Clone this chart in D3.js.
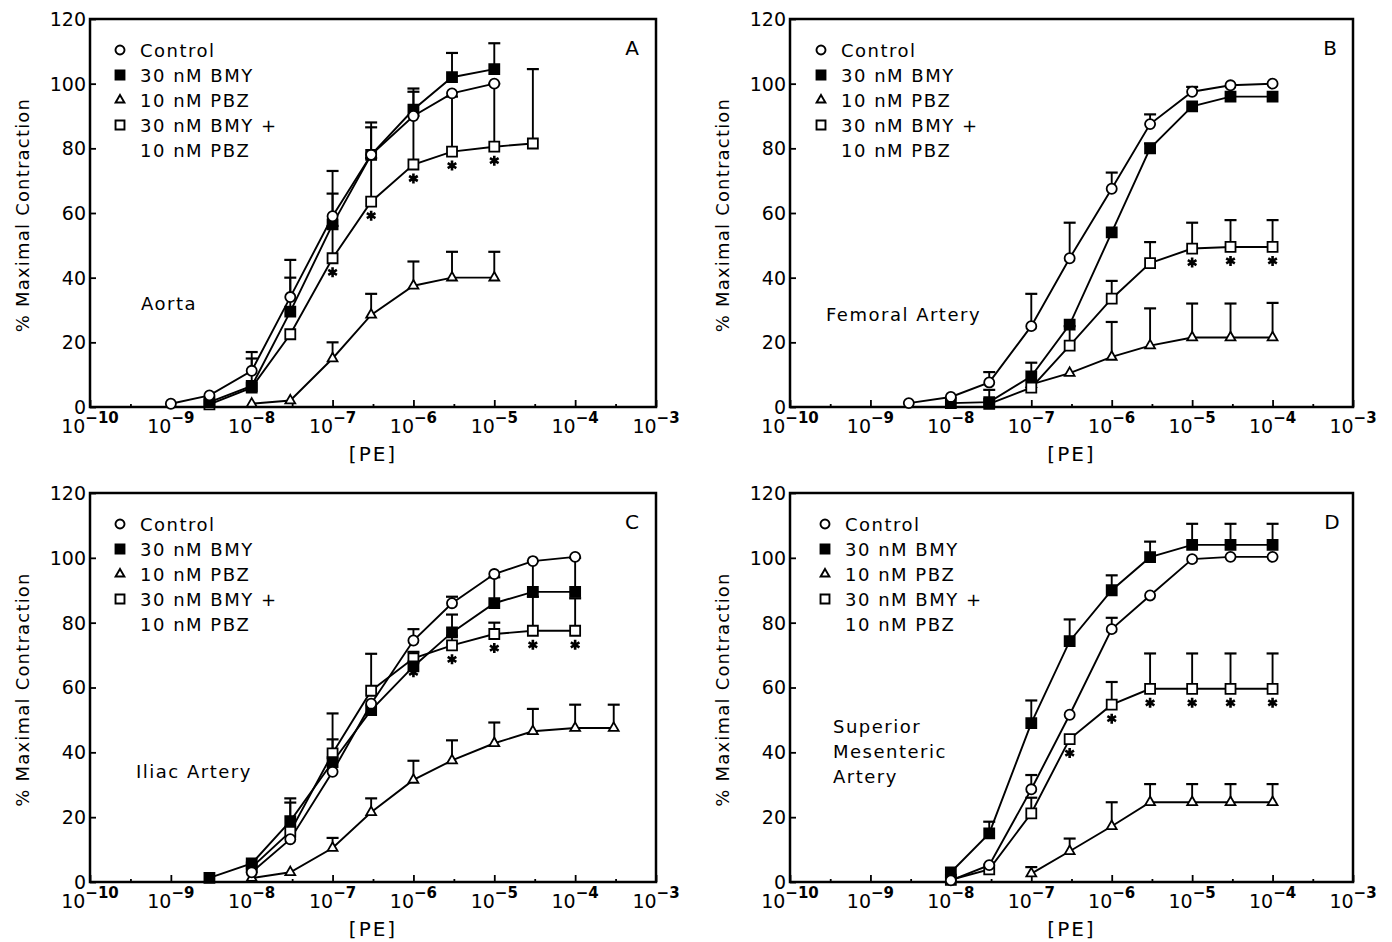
<!DOCTYPE html>
<html>
<head>
<meta charset="utf-8">
<script src="https://cdn.jsdelivr.net/npm/d3@7"></script>
<style>
body { margin: 0; background: #fff; }
text { font-family: "DejaVu Sans", sans-serif; fill: #000; }
</style>
</head>
<body>
<svg id="chart" width="1392" height="942"></svg>
<script>
var _ = null;

// PE concentrations (M) shared by every panel
var doses = [1e-9, 3e-9, 1e-8, 3e-8, 1e-7, 3e-7, 1e-6, 3e-6, 1e-5, 3e-5, 1e-4, 3e-4];
var xTicks = [1e-10, 1e-9, 1e-8, 1e-7, 1e-6, 1e-5, 1e-4, 1e-3];
var xTickExp = ["-10", "-9", "-8", "-7", "-6", "-5", "-4", "-3"];
var xMinorTicks = [3.162e-10, 3.162e-9, 3.162e-8, 3.162e-7, 3.162e-6, 3.162e-5, 3.162e-4];
var yTicks = [0, 20, 40, 60, 80, 100, 120];

var legendLabels = [["Control"], ["30 nM BMY"], ["10 nM PBZ"], ["30 nM BMY +", "10 nM PBZ"]];

// A - Aorta (value, top of error bar)
var aortaCtrl    = [1.0, 3.6, 11.2, 34, 59, 78, 90, 97, 100, _, _, _];
var aortaCtrlErr = [_, _, 17, 45.5, 73, 88, 98.5, _, _, _, _, _];
var aortaBmy     = [_, 1.5, 6.5, 29.5, 56.5, 78, 92, 102, 104.5, _, _, _];
var aortaBmyErr  = [_, _, 15, 40, 66, 86.5, 97.5, 109.5, 112.5, _, _, _];
var aortaPbz     = [_, _, 1, 2, 15, 28.5, 37.5, 40, 40, _, _, _];
var aortaPbzErr  = [_, _, _, _, 20, 35, 45, 48, 48, _, _, _];
var aortaBoth    = [_, 0.8, 6, 22.5, 46, 63.5, 75, 79, 80.5, 81.5, _, _];
var aortaBothErr = [_, _, _, _, 56, 77, 90, 96, 100, 104.5, _, _];
var aortaStars   = [1e-7, 3e-7, 1e-6, 3e-6, 1e-5];

// B - Femoral artery
var femCtrl    = [_, 1.2, 3.1, 7.6, 25, 46, 67.5, 87.5, 97.5, 99.5, 100, _];
var femCtrlErr = [_, _, _, 10.8, 35, 57, 72.5, 90.5, 99, _, _, _];
var femBmy     = [_, _, 1.2, 1.5, 9.5, 25.5, 54, 80, 93, 96, 96, _];
var femBmyErr  = [_, _, _, 5.3, 13.7, _, _, 81.5, _, _, _, _];
var femPbz     = [_, _, _, _, 7, 10.5, 15.5, 19, 21.5, 21.5, 21.5, _];
var femPbzErr  = [_, _, _, _, _, _, 26.3, 30.5, 32, 32, 32.2, _];
var femBoth    = [_, _, _, 1, 6, 19, 33.5, 44.5, 49, 49.5, 49.5, _];
var femBothErr = [_, _, _, _, _, 25, 39, 51, 57, 57.8, 57.8, _];
var femStars   = [1e-5, 3e-5, 1e-4];

// C - Iliac artery
var ilCtrl    = [_, _, 3, 13.2, 34, 55, 74.5, 86, 95, 99, 100.3, _];
var ilCtrlErr = [_, _, _, 24.5, 44, _, 78, 88, _, _, _, _];
var ilBmy     = [_, 1.3, 5.7, 18.8, 37, 53, 66.5, 77, 86, 89.5, 89.5, _];
var ilBmyErr  = [_, _, _, 25.8, 52, _, _, 82.5, 94, 99, 100, _];
var ilPbz     = [_, _, 1.2, 3, 10.5, 21.5, 31.5, 37.5, 42.8, 46.5, 47.5, 47.5];
var ilPbzErr  = [_, _, _, _, 13.6, 25.8, 37.4, 43.7, 49.2, 53.4, 54.7, 54.7];
var ilBoth    = [_, _, 4.5, 15.5, 39.7, 59, 69, 73, 76.5, 77.5, 77.5, _];
var ilBothErr = [_, _, _, _, _, 70.4, 71, 76, 80, 88, 87.5, _];
var ilStars   = [1e-6, 3e-6, 1e-5, 3e-5, 1e-4];

// D - Superior mesenteric artery
var smaCtrl    = [_, _, 0.5, 5.2, 28.6, 51.6, 78, 88.4, 99.6, 100.3, 100.3, _];
var smaCtrlErr = [_, _, _, _, 33, _, 81.5, _, _, _, _, _];
var smaBmy     = [_, _, 3, 15, 49, 74.3, 90, 100.2, 104, 104, 104, _];
var smaBmyErr  = [_, _, _, 18.6, 56, 81, 94.6, 105, 110.5, 110.5, 110.5, _];
var smaPbz     = [_, _, _, _, 2.6, 9.5, 17.2, 24.6, 24.6, 24.6, 24.6, _];
var smaPbzErr  = [_, _, _, _, 4.6, 13.4, 24.6, 30.2, 30.2, 30.2, 30.2, _];
var smaBoth    = [_, _, 0.7, 3.9, 21.2, 44.1, 54.7, 59.6, 59.6, 59.6, 59.6, _];
var smaBothErr = [_, _, _, _, 26, _, 61.7, 70.5, 70.5, 70.5, 70.5, _];
var smaStars   = [3e-7, 1e-6, 3e-6, 1e-5, 3e-5, 1e-4];

// panel layout
var panels = [
  { letter: "A", name: ["Aorta"], left: 90, top: 19, right: 656, bottom: 407,
    nameX: 141, nameY: 310, legX: 30, letterX: 632,
    series: [[aortaPbz, aortaPbzErr], [aortaBoth, aortaBothErr], [aortaBmy, aortaBmyErr], [aortaCtrl, aortaCtrlErr]],
    stars: aortaStars, starSeries: aortaBoth },
  { letter: "B", name: ["Femoral Artery"], left: 790, top: 19, right: 1353, bottom: 407,
    nameX: 826, nameY: 321, legX: 31, letterX: 1330,
    series: [[femPbz, femPbzErr], [femBoth, femBothErr], [femBmy, femBmyErr], [femCtrl, femCtrlErr]],
    stars: femStars, starSeries: femBoth },
  { letter: "C", name: ["Iliac Artery"], left: 90, top: 493, right: 656, bottom: 882,
    nameX: 136, nameY: 778, legX: 30, letterX: 632,
    series: [[ilPbz, ilPbzErr], [ilBoth, ilBothErr], [ilBmy, ilBmyErr], [ilCtrl, ilCtrlErr]],
    stars: ilStars, starSeries: ilBoth },
  { letter: "D", name: ["Superior", "Mesenteric", "Artery"], left: 790, top: 493, right: 1353, bottom: 882,
    nameX: 833, nameY: 733, legX: 35, letterX: 1332,
    series: [[smaPbz, smaPbzErr], [smaBoth, smaBothErr], [smaBmy, smaBmyErr], [smaCtrl, smaCtrlErr]],
    stars: smaStars, starSeries: smaBoth }
];

// symbol for each series, in the order of the series arrays above: pbz, both, bmy, control
var symTypes = [d3.symbolTriangle, d3.symbolSquare, d3.symbolSquare, d3.symbolCircle];
var symSizes = [42, 100, 100, 80];
var symFill = ["#fff", "#fff", "#000", "#fff"];
// legend order is control, bmy, pbz, both
var legendOrder = [3, 2, 0, 1];

var svg = d3.select("#chart");
svg.append("rect").attr("width", 1392).attr("height", 942).attr("fill", "#fff");

panels.forEach(function(p) {
  var x = d3.scaleLog().domain([1e-10, 1e-3]).range([p.left, p.right]);
  var y = d3.scaleLinear().domain([0, 120]).range([p.bottom, p.top]);
  var g = svg.append("g");

  // ticks
  g.append("g").attr("transform", "translate(0," + p.bottom + ")")
    .call(d3.axisBottom(x).tickValues(xTicks).tickSize(-7).tickFormat(""))
    .call(function(a) { a.select(".domain").remove(); a.selectAll("line").attr("stroke-width", 1.8); });
  g.append("g").attr("transform", "translate(0," + p.bottom + ")")
    .call(d3.axisBottom(x).tickValues(xMinorTicks).tickSize(-3).tickFormat(""))
    .call(function(a) { a.select(".domain").remove(); a.selectAll("line").attr("stroke-width", 1.8); });
  g.append("g").attr("transform", "translate(" + p.left + ",0)")
    .call(d3.axisLeft(y).tickValues(yTicks).tickSize(-6).tickFormat(""))
    .call(function(a) { a.select(".domain").remove(); a.selectAll("line").attr("stroke-width", 1.8); });

  // frame
  g.append("rect").attr("x", p.left).attr("y", p.top)
    .attr("width", p.right - p.left).attr("height", p.bottom - p.top)
    .attr("fill", "none").attr("stroke", "#000").attr("stroke-width", 2.5);

  // tick labels
  g.selectAll(".ylab").data(yTicks).enter().append("text")
    .attr("x", p.left - 4).attr("y", function(d) { return y(d); }).attr("dy", "0.36em")
    .attr("text-anchor", "end").style("font-size", "19px").text(function(d) { return d; });

  var xl = g.selectAll(".xlab").data(xTicks).enter().append("text")
    .attr("x", function(d) { return x(d); }).attr("y", p.bottom + 26)
    .attr("text-anchor", "middle").style("font-size", "19px");
  xl.append("tspan").text("10");
  xl.append("tspan").attr("dy", -10).style("font-size", "15px").style("font-weight", "bold")
    .text(function(d, i) { return xTickExp[i].replace("-", "\u2212"); });

  // axis titles
  g.append("text").attr("transform", "translate(" + (p.left - 61) + "," + ((p.top + p.bottom) / 2 + 2) + ") rotate(-90)")
    .attr("text-anchor", "middle").style("font-size", "18px").style("letter-spacing", "1.2px")
    .text("% Maximal Contraction");
  g.append("text").attr("x", (p.left + p.right) / 2).attr("y", p.bottom + 54)
    .attr("text-anchor", "middle").style("font-size", "20px").style("letter-spacing", "2px").text("[PE]");

  // panel letter and tissue name
  g.append("text").attr("x", p.letterX).attr("y", p.top + 36).attr("text-anchor", "middle")
    .style("font-size", "20px").text(p.letter);
  p.name.forEach(function(t, i) {
    g.append("text").attr("x", p.nameX).attr("y", p.nameY + i * 25)
      .style("font-size", "18px").style("letter-spacing", "1.5px").text(t);
  });

  // curves
  var line = d3.line()
    .defined(function(d) { return d.v != null; })
    .x(function(d) { return x(d.c); }).y(function(d) { return y(d.v); });

  p.series.forEach(function(s) {
    var pts = doses.map(function(c, i) { return { c: c, v: s[0][i], e: s[1][i] }; });
    g.append("path").datum(pts).attr("d", line)
      .attr("fill", "none").attr("stroke", "#000").attr("stroke-width", 1.9);
    var eb = pts.filter(function(d) { return d.v != null && d.e != null; });
    g.selectAll(null).data(eb).enter().append("line")
      .attr("x1", function(d) { return x(d.c); }).attr("x2", function(d) { return x(d.c); })
      .attr("y1", function(d) { return y(d.v); }).attr("y2", function(d) { return y(d.e); })
      .attr("stroke", "#000").attr("stroke-width", 1.9);
    g.selectAll(null).data(eb).enter().append("line")
      .attr("x1", function(d) { return x(d.c) - 6; }).attr("x2", function(d) { return x(d.c) + 6; })
      .attr("y1", function(d) { return y(d.e); }).attr("y2", function(d) { return y(d.e); })
      .attr("stroke", "#000").attr("stroke-width", 2.2);
  });

  p.series.forEach(function(s, k) {
    var pts = doses.map(function(c, i) { return { c: c, v: s[0][i] }; })
      .filter(function(d) { return d.v != null; });
    g.selectAll(null).data(pts).enter().append("path")
      .attr("d", d3.symbol().type(symTypes[k]).size(symSizes[k]))
      .attr("transform", function(d) { return "translate(" + x(d.c) + "," + y(d.v) + ")"; })
      .attr("fill", symFill[k]).attr("stroke", "#000").attr("stroke-width", 1.8);
  });

  // significance asterisks under the BMY + PBZ curve
  var star = d3.symbol().type(d3.symbolAsterisk || d3.symbolCross).size(70);
  g.selectAll(null).data(p.stars).enter().append("path")
    .attr("d", star)
    .attr("transform", function(c) {
      var v = p.starSeries[doses.indexOf(c)];
      return "translate(" + x(c) + "," + (y(v) + 14) + ")";
    })
    .attr("fill", "#000").attr("stroke", "#000").attr("stroke-width", 2.6);

  // legend
  var row = 0;
  legendOrder.forEach(function(k, li) {
    var cy = p.top + 31 + row * 25;
    g.append("path").attr("d", d3.symbol().type(symTypes[k]).size(symSizes[k] * 0.8))
      .attr("transform", "translate(" + (p.left + p.legX) + "," + cy + ")")
      .attr("fill", symFill[k]).attr("stroke", "#000").attr("stroke-width", 1.9);
    legendLabels[li].forEach(function(t) {
      g.append("text").attr("x", p.left + p.legX + 20).attr("y", p.top + 31 + row * 25 + 6.5)
        .style("font-size", "18px").style("letter-spacing", "1.5px").text(t);
      row++;
    });
  });
});
</script>
</body>
</html>
